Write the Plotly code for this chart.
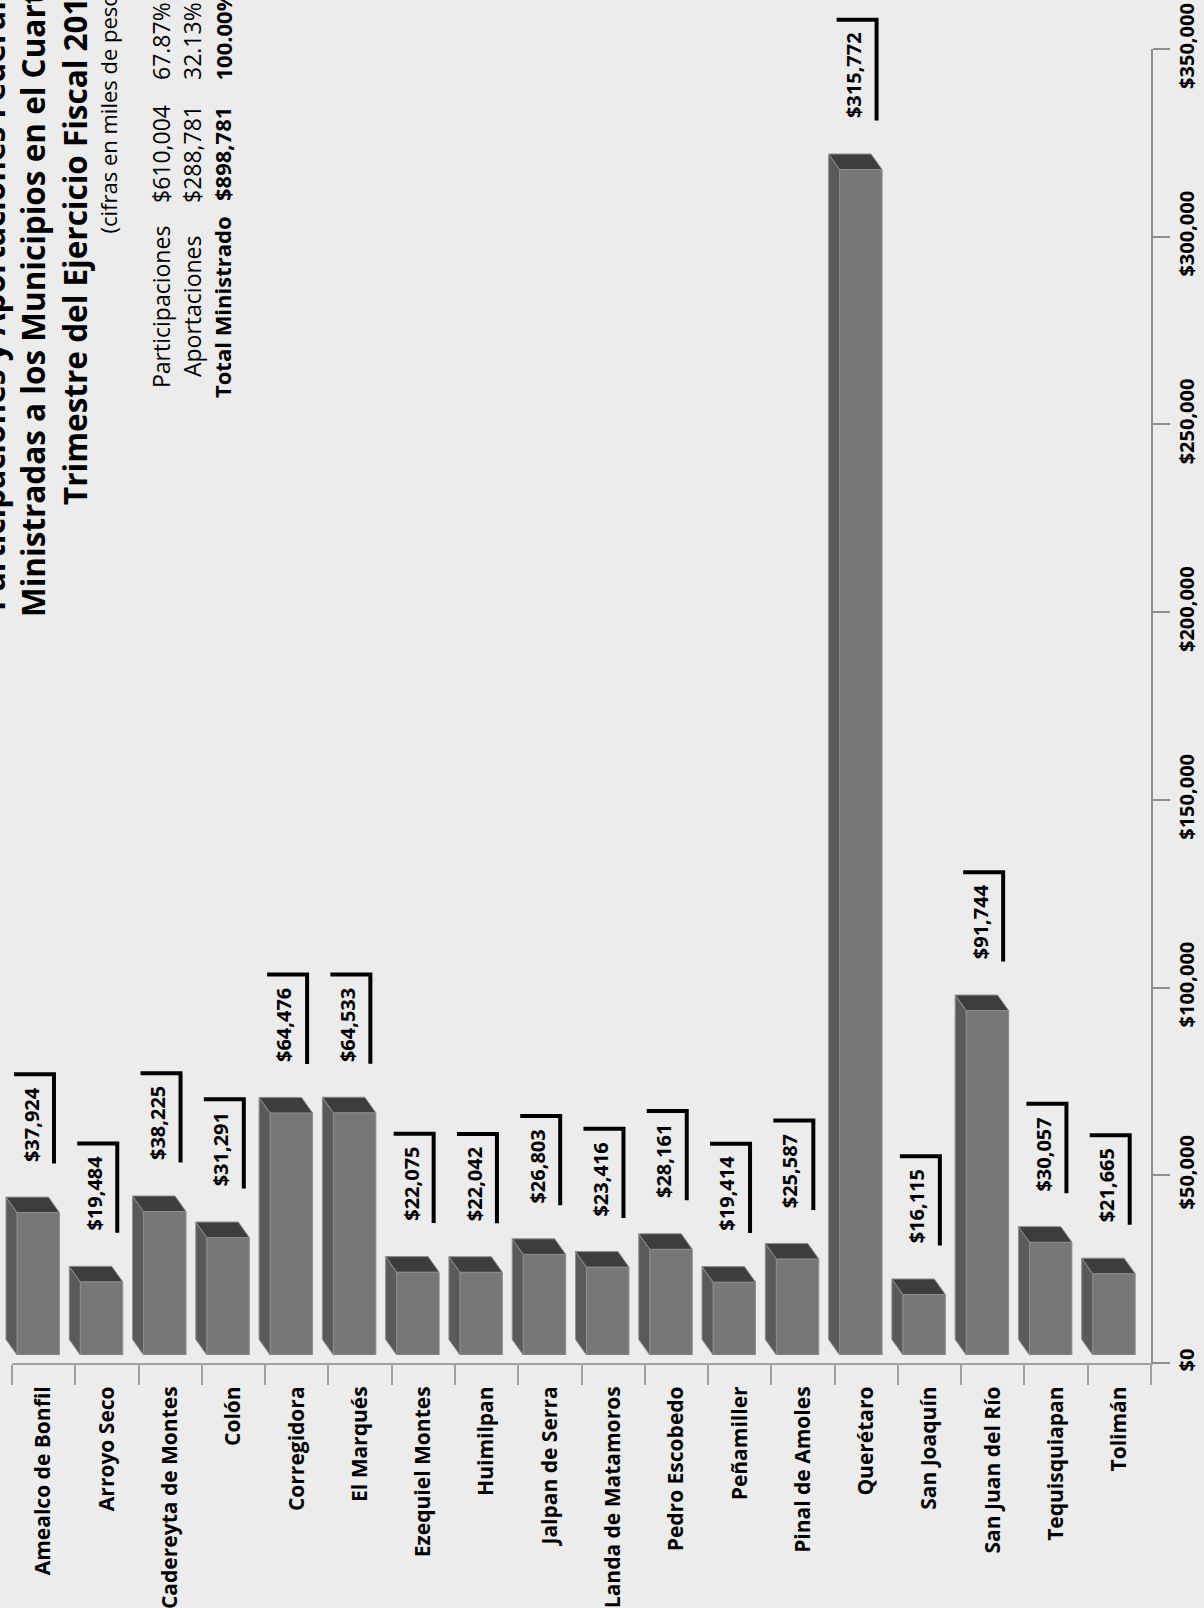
import plotly.graph_objects as go

# ---------------- data ----------------
categories = ["Amealco de Bonfil", "Arroyo Seco", "Cadereyta de Montes", "Colón",
              "Corregidora", "El Marqués", "Ezequiel Montes", "Huimilpan",
              "Jalpan de Serra", "Landa de Matamoros", "Pedro Escobedo", "Peñamiller",
              "Pinal de Amoles", "Querétaro", "San Joaquín", "San Juan del Río",
              "Tequisquiapan", "Tolimán"]
values = [37924, 19484, 38225, 31291, 64476, 64533, 22075, 22042, 26803, 23416,
          28161, 19414, 25587, 315772, 16115, 91744, 30057, 21665]

y_tick_vals = [0, 50000, 100000, 150000, 200000, 250000, 300000, 350000]

title_lines = ["Participaciones y Aportaciones Federales",
               "Ministradas a los Municipios en el Cuarto",
               "Trimestre del Ejercicio Fiscal 2013"]
subtitle = "(cifras en miles de pesos)"
summary_labels = ["Participaciones", "Aportaciones", "Total Ministrado"]
summary_amounts = ["$610,004", "$288,781", "$898,781"]
summary_pcts = ["67.87%", "32.13%", "100.00%"]

# ---------------- style / layout helpers ----------------
W, H = 1204, 1608
BG = "#ececec"
FONT = "Open Sans"
FRONT, SIDE, TOP, EDGE = "#777777", "#5a5a5a", "#3d3d3d", "#8e8e8e"


def px(x):
    return x / W


def py(y):
    return 1 - y / H


n = len(categories)
idx = list(range(n))
PLOT_L, PLOT_R = 12, 1151          # category axis extent (px)
Y0_PX, YTOP_PX = 1363, 49          # value axis: $0 and top tick (px)
Y_MAX = 350000
cat_px = (PLOT_R - PLOT_L) / n
val_px = (Y0_PX - YTOP_PX) / Y_MAX
bar_lift = 8                        # front faces sit 8 px above the axis

front_off = -0.421        # left edge of front face (category units)
front_w = 0.671           # width of front face (category units)
depth_dx = -0.174         # 3D depth, x (category units)
depth_dy = 4130           # 3D depth, y (value units)
label_dx = -0.2           # data label position relative to category centre
label_fs = 20
label_gap = 49            # px between bar top and label

fig = go.Figure()

# invisible trace so the category axis carries the names
fig.add_trace(go.Scatter(x=categories, y=values, mode="markers",
                         marker=dict(opacity=0), hoverinfo="skip",
                         xaxis="x", yaxis="y", showlegend=False))

# front faces of the bars
fig.add_trace(go.Bar(x=idx, y=values, width=front_w, offset=front_off,
                     marker=dict(color=FRONT, line=dict(color=EDGE, width=1)),
                     xaxis="x2", yaxis="y2", showlegend=False, hoverinfo="y"))

shapes = []
annotations = []
for i, v in zip(idx, values):
    xl = i + front_off
    xr = xl + front_w
    # side face
    shapes.append(dict(type="path", xref="x2", yref="y2", layer="above",
                       path=f"M {xl},0 L {xl},{v} L {xl + depth_dx},{v + depth_dy} L {xl + depth_dx},{depth_dy} Z",
                       fillcolor=SIDE, line=dict(color=EDGE, width=1)))
    # top face
    shapes.append(dict(type="path", xref="x2", yref="y2", layer="above",
                       path=f"M {xl},{v} L {xr},{v} L {xr + depth_dx},{v + depth_dy} L {xl + depth_dx},{v + depth_dy} Z",
                       fillcolor=TOP, line=dict(color=EDGE, width=1)))
    txt = f"${v:,}"
    annotations.append(dict(xref="x2", yref="y2", x=i + label_dx, y=v, text=txt,
                            textangle=-90, showarrow=False, xanchor="center",
                            yanchor="bottom", yshift=label_gap,
                            font=dict(family=FONT, size=label_fs, color="black", weight="bold")))
    tl = label_fs * (0.572 * (len(txt) - txt.count(",")) + 0.285 * txt.count(","))
    top = label_gap + tl + 15
    shapes.append(dict(type="path", xref="x2", yref="y2", xsizemode="pixel",
                       ysizemode="pixel", xanchor=i + label_dx, yanchor=v,
                       path=f"M -17,{top} L 23,{top} L 23,{label_gap}",
                       line=dict(color="black", width=4)))

# title lines (rotated, cut by the page edge like the original)
title_pos = [(-8, 613), (33, 619), (74, 507)]
for t, (xc, yb) in zip(title_lines, title_pos):
    annotations.append(dict(xref="paper", yref="paper", x=px(xc), y=py(yb), text=t,
                            textangle=-90, showarrow=False, xanchor="center",
                            yanchor="bottom",
                            font=dict(family=FONT, size=31.5, color="black", weight="bold")))
annotations.append(dict(xref="paper", yref="paper", x=px(108), y=py(236), text=subtitle,
                        textangle=-90, showarrow=False, xanchor="center", yanchor="bottom",
                        font=dict(family=FONT, size=22, color="black")))

row_x = [161, 192, 222]
for r in range(3):
    w = "bold" if r == 2 else "normal"
    fs = 22 if r == 2 else 23
    annotations.append(dict(xref="paper", yref="paper", x=px(row_x[r]), y=py(307),
                            text=summary_labels[r], textangle=-90, showarrow=False,
                            xanchor="center", yanchor="middle",
                            font=dict(family=FONT, size=fs, color="black", weight=w)))
    annotations.append(dict(xref="paper", yref="paper", x=px(row_x[r]), y=py(154),
                            text=summary_amounts[r], textangle=-90, showarrow=False,
                            xanchor="center", yanchor="middle",
                            font=dict(family=FONT, size=fs, color="black", weight=w)))
    annotations.append(dict(xref="paper", yref="paper", x=px(row_x[r]), y=py(82),
                            text=summary_pcts[r], textangle=-90, showarrow=False,
                            xanchor="center", yanchor="bottom",
                            font=dict(family=FONT, size=fs, color="black", weight=w)))

x_dom = [px(PLOT_L), px(PLOT_R)]
# bar subplot spans to the page edges so 3D faces / brackets are not clipped
x2_range = [-0.5 - PLOT_L / cat_px, n - 0.5]
bar_base_px = Y0_PX - bar_lift
y2_range = [0, bar_base_px / val_px]

fig.update_layout(
    width=W, height=H,
    margin=dict(l=0, r=0, t=0, b=0, autoexpand=False),
    paper_bgcolor=BG, plot_bgcolor="rgba(0,0,0,0)",
    showlegend=False,
    xaxis=dict(type="category", categoryorder="array", categoryarray=categories,
               domain=x_dom, range=[-0.5, n - 0.5], anchor="y", automargin=False,
               showline=True, linecolor="#a0a0a0", linewidth=2,
               ticks="outside", ticklen=20, tickwidth=1.5, tickcolor="#a0a0a0",
               tickson="boundaries", tickangle=-90, showgrid=False,
               ticklabelstandoff=13,
               tickfont=dict(family=FONT, size=21, color="black", weight="bold")),
    yaxis=dict(domain=[py(Y0_PX), py(YTOP_PX)], range=[0, Y_MAX], anchor="x", side="right",
               automargin=False,
               showline=True, linecolor="#8e8e8e", linewidth=1.5,
               ticks="outside", ticklen=17, tickwidth=1.5, tickcolor="#8e8e8e",
               tickvals=y_tick_vals, tickformat="$,.0f", tickangle=-90,
               showgrid=False, zeroline=False,
               tickfont=dict(family=FONT, size=20, color="black", weight="bold")),
    xaxis2=dict(domain=[0, px(PLOT_R)], range=x2_range, anchor="y2", visible=False,
                automargin=False),
    yaxis2=dict(domain=[py(bar_base_px), 1], range=y2_range, anchor="x2", visible=False,
                automargin=False),
    shapes=shapes,
    annotations=annotations,
)

fig.write_html("out.html", config={"displayModeBar": False},
               post_script="document.body.style.margin='0';document.body.style.background='#ececec';document.body.style.overflow='hidden';")
